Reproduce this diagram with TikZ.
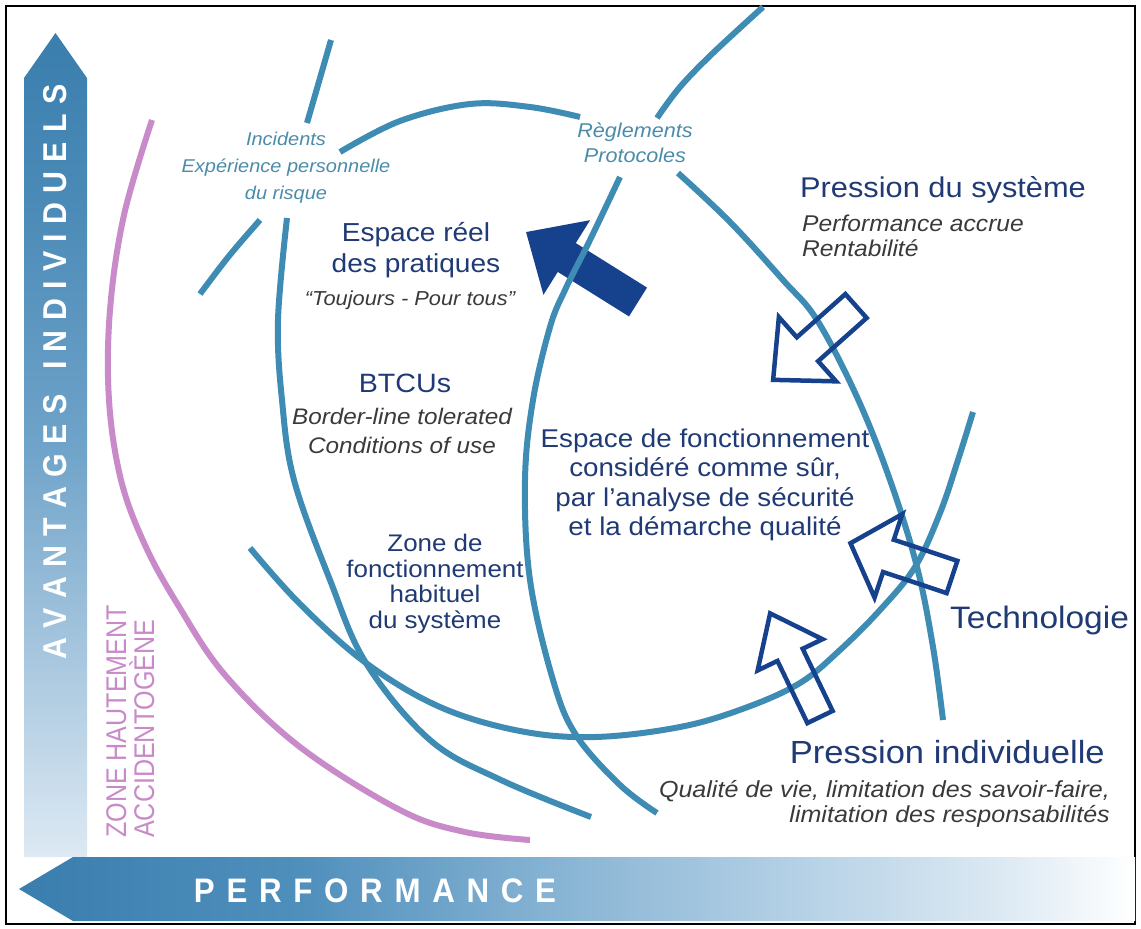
\documentclass[tikz,border=0pt]{standalone}
\usepackage{fontspec}
\setmainfont{Liberation Sans}[FakeStretch=1.08]
\newfontfamily\capsfont{Liberation Sans}[FakeStretch=0.88]
\newfontfamily\axisfont{Liberation Sans}[FakeStretch=0.92]
\definecolor{lineblue}{HTML}{3E8CB4}
\definecolor{pinkc}{HTML}{C98AC9}
\definecolor{navy}{HTML}{1F3A75}
\definecolor{arrownavy}{HTML}{16418C}
\definecolor{tealc}{HTML}{4B8CAA}
\definecolor{graytext}{HTML}{3A3A3A}
\definecolor{vb0}{HTML}{DDE9F3}
\definecolor{vb1}{HTML}{A6C6DE}
\definecolor{vb2}{HTML}{6FA3C9}
\definecolor{vb3}{HTML}{4A8AB7}
\definecolor{vb4}{HTML}{3A7EAE}
\definecolor{hb0}{HTML}{3A7EAE}
\definecolor{hb1}{HTML}{4F8FBC}
\definecolor{hb2}{HTML}{86B3D3}
\definecolor{hb3}{HTML}{B5D1E6}
\definecolor{hb4}{HTML}{DCE9F3}
\pgfdeclareverticalshading{vbarshade}{100bp}{color(0bp)=(vb0); color(25bp)=(vb0); color(37.5bp)=(vb1); color(50bp)=(vb2); color(65bp)=(vb3); color(75bp)=(vb4); color(100bp)=(vb4)}
\pgfdeclarehorizontalshading{hbarshade}{100bp}{color(0bp)=(hb0); color(25bp)=(hb0); color(37.6bp)=(hb1); color(48.8bp)=(hb2); color(60bp)=(hb3); color(69bp)=(hb4); color(75bp)=(white); color(100bp)=(white)}
\newcommand{\gk}{\kern9.3pt}
\newcommand{\pk}{\kern11.7pt}
\newcommand{\fatarrow}[7]{%
  \begin{scope}[shift={(#2)}, rotate=#3]
    \draw[#1] (0,-#7) -- ({#4-#5},-#7) -- ({#4-#5},-#6) -- (#4,0) -- ({#4-#5},#6) -- ({#4-#5},#7) -- (0,#7) -- cycle;
  \end{scope}}
\tikzset{
  bluecurve/.style={draw=lineblue, line width=6pt},
  pinkcurve/.style={draw=pinkc, line width=6pt},
  hollowarrow/.style={draw=arrownavy, line width=4.5pt, miter limit=10},
  solidarrow/.style={fill=arrownavy, draw=none},
  navytext/.style={text=navy, inner sep=0pt, align=center},
  tealtext/.style={text=tealc, inner sep=0pt, align=center},
  graytxt/.style={text=graytext, inner sep=0pt, align=center},
}
\begin{document}
\begin{tikzpicture}[x=1pt,y=-1pt]
\useasboundingbox (0,0) rectangle (1141,929);
\fill[white] (0,0) rectangle (1141,929);
\draw[black, line width=1.5pt] (6,6) rectangle (1135,924);

% axes
\shade[shading=vbarshade] (24,857) -- (24,78) -- (55.5,33) -- (87,78) -- (87,857) -- cycle;
\shade[shading=hbarshade] (19,889) -- (73,857) -- (1135,857) -- (1135,921) -- (73,921) -- cycle;
\node[rotate=90, text=white, inner sep=0pt, font=\axisfont\bfseries\fontsize{33}{36}\selectfont] (avant) at (55.5,372)
  {A\gk V\gk A\gk N\gk T\gk A\gk G\gk E\gk S\gk\hspace{6pt}\gk I\gk N\gk D\gk I\gk V\gk I\gk D\gk U\gk E\gk L\gk S};
\node[text=white, inner sep=0pt, font=\axisfont\bfseries\fontsize{34}{36}\selectfont] (perf) at (375,891)
  {P\pk E\pk R\pk F\pk O\pk R\pk M\pk A\pk N\pk C\pk E};

% pink zone
\draw[pinkcurve] plot[smooth, tension=0.6] coordinates {(152,120) (124,215) (110,310) (109,400) (121,480) (145,545) (178,605) (225,675) (300,747) (400,810) (465,832) (530,840)};
\node[rotate=90, anchor=north west, align=left, inner sep=0pt, text=pinkc, font=\capsfont\fontsize{28.5}{28}\selectfont] (zoneh) at (106,838) {ZONE HAUTEMENT\\ACCIDENTOGÈNE};

% solid arrow (under the curves)
\coordinate (sa) at (638,302);
\fatarrow{solidarrow}{sa}{148}{132}{48}{44}{17}

% blue curves
\draw[bluecurve] plot[smooth, tension=0.6] coordinates {(331,40) (318,85) (307,123)};
\draw[bluecurve] plot[smooth, tension=0.6] coordinates {(287,218) (278,320) (282,400) (294,480) (330,580) (366,663) (430,740) (501,780) (591,817)};
\draw[bluecurve] plot[smooth, tension=0.6] coordinates {(200,294) (229,256) (260,220)};
\draw[bluecurve] plot[smooth, tension=0.6] coordinates {(340,152) (400,121) (470,104) (530,107) (580,117)};
\draw[bluecurve] plot[smooth, tension=0.6] coordinates {(678,173) (730,222) (783,280) (817,320) (857,397) (890,480) (917,567) (933,647) (943,720)};
\draw[bluecurve] plot[smooth, tension=0.6] coordinates {(763,7) (713,53) (680,87) (657,118)};
\draw[bluecurve] plot[smooth, tension=0.6] coordinates {(620,177) (590,240) (565,290) (550,327) (533,400) (525,480) (530,580) (553,680) (576,735) (620,785) (657,813)};
\draw[bluecurve] plot[smooth, tension=0.6] coordinates {(250,548) (300,604) (366,663) (440,707) (520,731) (595,737) (680,727) (745,708) (800,683) (840,650) (880,610) (915,567) (940,513) (958,460) (973,412)};

% hollow arrows
\coordinate (a1) at (856,306);
\coordinate (a2) at (952,577);
\coordinate (a3) at (820,717);
\fatarrow{hollowarrow}{a1}{221.7}{111}{46}{43}{16}
\fatarrow{hollowarrow}{a2}{161.6}{107}{40}{44}{17}
\fatarrow{hollowarrow}{a3}{115.7}{115}{46}{36}{14}

% texts
\node[tealtext, font=\itshape\fontsize{18.5}{27}\selectfont] (incid) at (286,168) {Incidents\\Expérience personnelle\\du risque};
\node[tealtext, font=\itshape\fontsize{20}{25}\selectfont] (regl) at (635,143) {Règlements\\Protocoles};
\node[navytext, font=\fontsize{26}{31}\selectfont] (espreel) at (416,250) {Espace réel\\des pratiques};
\node[graytxt, font=\itshape\fontsize{20.2}{22}\selectfont] (toujours) at (410,300) {“Toujours - Pour tous”};
\node[navytext, anchor=west, font=\fontsize{28.5}{32}\selectfont] (pressys) at (800,190) {Pression du système};
\node[graytxt, anchor=west, align=left, font=\itshape\fontsize{22.8}{25}\selectfont] (perfacc) at (802,236) {Performance accrue\\Rentabilité};
\node[navytext, font=\fontsize{26.5}{30}\selectfont] (btcu) at (405,383) {BTCUs};
\node[graytxt, font=\itshape\fontsize{22.5}{29}\selectfont] (border) at (402,431) {Border-line tolerated\\Conditions of use};
\node[navytext, font=\fontsize{25.7}{29.5}\selectfont] (espfonc) at (705,485) {Espace de fonctionnement\\considéré comme sûr,\\par l’analyse de sécurité\\et la démarche qualité};
\node[navytext, font=\fontsize{24}{25.5}\selectfont] (zone) at (435,584) {Zone de\\fonctionnement\\habituel\\du système};
\node[navytext, anchor=west, font=\fontsize{31}{34}\selectfont] (techno) at (950,620) {Technologie};
\node[navytext, anchor=east, font=\fontsize{32}{34}\selectfont] (presind) at (1105,752) {Pression individuelle};
\node[graytxt, anchor=east, align=right, font=\itshape\fontsize{23.2}{25}\selectfont] (qualite) at (1110,804) {Qualité de vie, limitation des savoir-faire,\\limitation des responsabilités};
\end{tikzpicture}
\end{document}
